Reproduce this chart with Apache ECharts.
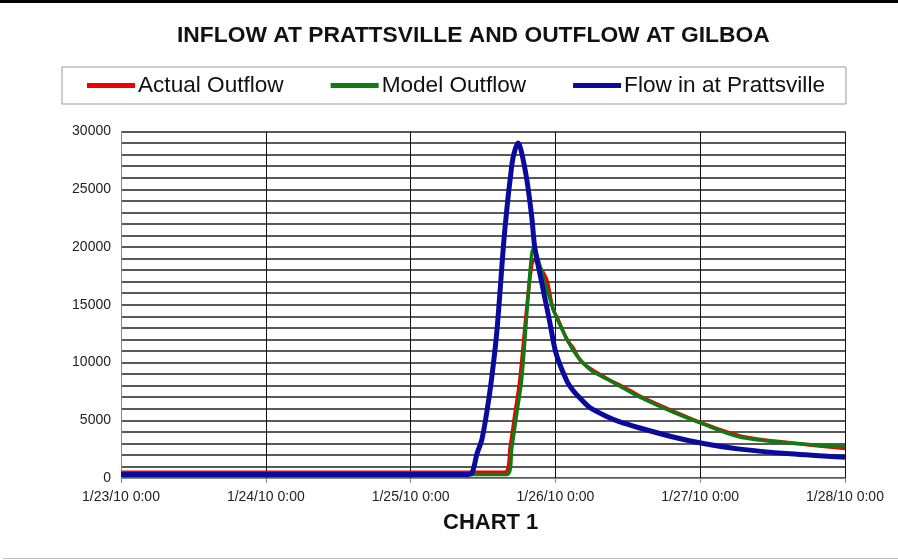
<!DOCTYPE html>
<html>
<head>
<meta charset="utf-8">
<script src="https://cdn.jsdelivr.net/npm/echarts@6/dist/echarts.min.js"></script>
<style>
html,body{margin:0;padding:0;background:#fff;}
#chart{width:898px;height:560px;}
</style>
</head>
<body>
<div id="chart"></div>
<script>
// Tick labels on the time axis (one per day, hours from 1/23/10 0:00)
const xTickLabels = ['1/23/10 0:00', '1/24/10 0:00', '1/25/10 0:00', '1/26/10 0:00', '1/27/10 0:00', '1/28/10 0:00'];

// Actual Outflow (hours since 1/23/10 0:00, cfs)
const actualHours = [0, 63.6, 64.5, 65.3, 66.1, 67.3, 68.1, 68.5, 69.5, 70.6, 71.6, 72.3, 73.9, 74.9, 76.1, 77.7, 80.6, 83.2, 86.0, 91.5, 96.1, 102.6, 110.9, 120];
const actualFlow  = [500, 500, 2700, 5600, 8500, 15000, 18500, 18900, 18200, 17100, 14600, 13900, 12000, 11300, 10200, 9500, 8600, 7900, 7100, 5800, 4800, 3650, 3050, 2550];

// Model Outflow
const modelHours = [0, 64.0, 64.8, 65.6, 66.4, 67.3, 67.9, 68.3, 68.8, 69.9, 71.1, 72.1, 74.9, 77.7, 80.6, 83.2, 86.0, 91.5, 96.1, 102.6, 110.9, 120];
const modelFlow  = [300, 300, 2700, 5600, 8500, 14500, 18500, 19800, 19500, 17500, 15500, 14000, 11100, 9400, 8550, 7800, 7000, 5700, 4750, 3550, 3030, 2700];

// Flow in at Prattsville
const inflowHours = [0, 57.0, 58.1, 59.0, 59.8, 60.6, 61.4, 62.3, 63.6, 64.8, 65.3, 65.8, 66.3, 67.3, 68.1, 68.6, 69.9, 71.1, 72.1, 73.9, 74.9, 76.1, 77.7, 80.6, 82.7, 86.0, 91.5, 96.1, 102.6, 110.9, 120];
const inflowFlow  = [300, 300, 400, 2100, 3300, 5600, 8500, 12700, 21400, 27200, 28400, 29000, 28400, 25700, 22500, 19900, 16500, 13400, 10800, 8400, 7600, 6900, 6100, 5300, 4850, 4330, 3550, 3030, 2500, 2100, 1800];

const seriesNames = ['Actual Outflow', 'Model Outflow', 'Flow in at Prattsville'];

function pairs(xs, ys) { return xs.map((x, i) => [x, ys[i]]); }

const chart = echarts.init(document.getElementById('chart'), null, {renderer: 'canvas'});
const FONT = 'Liberation Sans, Arial, sans-serif';

chart.setOption({
  animation: false,
  backgroundColor: '#ffffff',
  title: [
    {
      text: 'INFLOW AT PRATTSVILLE AND OUTFLOW AT GILBOA',
      left: 172, top: 19,
      textStyle: {fontFamily: FONT, fontSize: 22.8, fontWeight: 'bold', color: '#111'}
    },
    {
      text: 'CHART 1',
      left: 438, top: 507,
      textStyle: {fontFamily: FONT, fontSize: 22, fontWeight: 'bold', color: '#111'}
    }
  ],
  legend: {
    left: 62, top: 67,
    padding: [7, 21, 7, 25],
    borderColor: '#999', borderWidth: 1,
    itemWidth: 48, itemHeight: 5, itemGap: 47,
    icon: 'rect',
    textStyle: {fontFamily: FONT, fontSize: 22.6, color: '#111', padding: [0, 0, 0, -2]},
    data: seriesNames
  },
  grid: {left: 121, right: 53, top: 131.5, bottom: 82},
  xAxis: {
    type: 'value', min: 0, max: 120, interval: 24,
    axisLine: {show: true, lineStyle: {color: '#888', width: 1}},
    axisTick: {show: true, length: 5, lineStyle: {color: '#888'}},
    axisLabel: {
      fontFamily: FONT, fontSize: 14, color: '#222', margin: 12,
      formatter: v => xTickLabels[Math.round(v / 24)] || ''
    },
    splitLine: {show: true, lineStyle: {color: '#111', width: 1}}
  },
  yAxis: {
    type: 'value', min: 0, max: 30000, interval: 1000,
    axisLine: {show: true, lineStyle: {color: '#888', width: 1}},
    axisTick: {show: false},
    axisLabel: {
      fontFamily: FONT, fontSize: 14, color: '#222', margin: 10,
      formatter: v => (v % 5000 === 0 ? String(v) : '')
    },
    splitLine: {show: true, lineStyle: {color: '#222', width: 1.5}}
  },
  graphic: [
    {type: 'rect', left: 0, top: 0, shape: {width: 898, height: 3}, style: {fill: '#000'}, silent: true},
    {type: 'rect', left: 3, top: 558, shape: {width: 895, height: 1}, style: {fill: '#c0c0c0'}, silent: true}
  ],
  series: [
    {
      name: seriesNames[0], type: 'line', data: pairs(actualHours, actualFlow),
      showSymbol: false, smooth: 0.3,
      color: '#ee0000', lineStyle: {width: 3.5, color: '#ee0000'}
    },
    {
      name: seriesNames[1], type: 'line', data: pairs(modelHours, modelFlow),
      showSymbol: false, smooth: 0.3,
      color: '#137a13', lineStyle: {width: 3.5, color: '#137a13'}
    },
    {
      name: seriesNames[2], type: 'line', data: pairs(inflowHours, inflowFlow),
      showSymbol: false, smooth: 0.3,
      color: '#0a0a9c', lineStyle: {width: 5, color: '#0a0a9c'}
    }
  ]
});
</script>
</body>
</html>
